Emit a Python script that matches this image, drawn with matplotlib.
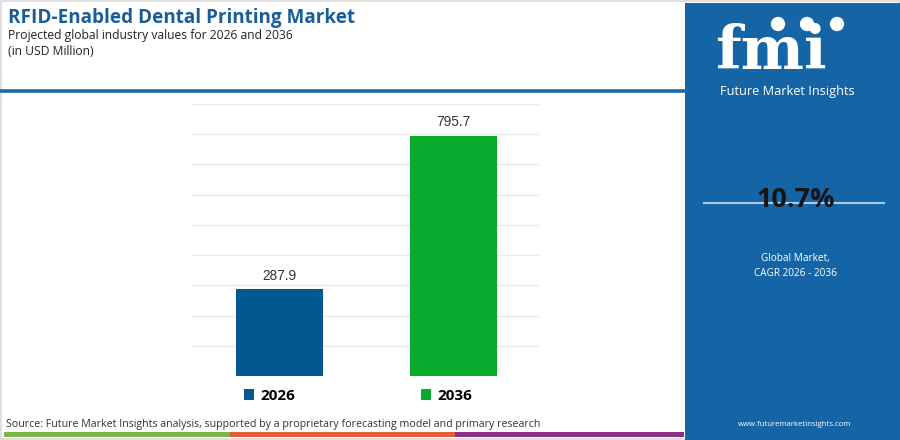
import matplotlib
matplotlib.use("Agg")
import matplotlib.pyplot as plt
from matplotlib.patches import Rectangle, Ellipse
from matplotlib.lines import Line2D

# ---- data ----
years = ["2026", "2036"]
values = [287.9, 795.7]
bar_colors = ["#03598f", "#08ab2e"]
yticks = [0, 100, 200, 300, 400, 500, 600, 700, 800, 900]
title = "RFID-Enabled Dental Printing Market"
subtitle = "Projected global industry values for 2026 and 2036"
unit = "(in USD Million)"
cagr = "10.7%"
cagr_label = "Global Market,\nCAGR 2026 - 2036"
source = "Source: Future Market Insights analysis, supported by a proprietary forecasting model and primary research"

plt.rcParams["font.family"] = ["Open Sans", "DejaVu Sans"]

W, H = 900, 440
fig = plt.figure(figsize=(W / 100, H / 100), dpi=100)
fig.patch.set_facecolor("white")

def fx(px):
    return px / W

def fy(py):
    return 1 - py / H

# outer light border
fig.add_artist(Rectangle((0.001, 0.002), 0.998, 0.995, transform=fig.transFigure,
                         fill=False, edgecolor="#d9d9d9", lw=1.2))

# header line
fig.add_artist(Line2D([fx(0), fx(686)], [fy(91), fy(91)], transform=fig.transFigure,
                      color="#1f6aa5", lw=2.6))

# right panel
fig.add_artist(Rectangle((fx(685), fy(440)), fx(215), 437 / H, transform=fig.transFigure,
                         facecolor="#1565a6", edgecolor="none"))

# bottom strip
strip = [("#7ab648", 4, 230), ("#e0603a", 230, 455), ("#8a2f8a", 455, 684)]
for c, x0, x1 in strip:
    fig.add_artist(Rectangle((fx(x0), fy(437)), fx(x1 - x0), 5 / H, transform=fig.transFigure,
                             facecolor=c, edgecolor="none"))

# titles
fig.text(fx(8), fy(18.5), title, fontsize=13.6, fontweight="bold", color="#1a5e99",
         va="center", ha="left")
fig.text(fx(8), fy(35.5), subtitle, fontsize=8.7, color="#222222", va="center", ha="left")
fig.text(fx(8), fy(51), unit, fontsize=8.7, color="#222222", va="center", ha="left")

# main axes
ax = fig.add_axes([fx(192), (H - 376) / H, fx(348), 272 / H])
x = list(range(len(years)))
bars = ax.bar(x, values, width=0.5, color=bar_colors, label=years, zorder=3)
ax.set_xlim(-0.5, 1.5)
ax.set_ylim(yticks[0], yticks[-1])
ax.set_yticks(yticks)
ax.yaxis.grid(True, color="#ebebeb", lw=1, zorder=0)
ax.set_xticks([])
ax.tick_params(left=False, labelleft=False)
for s in ax.spines.values():
    s.set_visible(False)
for b, v in zip(bars, values):
    ax.annotate(f"{v:.1f}", (b.get_x() + b.get_width() / 2, v), xytext=(0, 4.5),
                textcoords="offset points", ha="center", va="bottom",
                fontsize=9.8, color="#333333", family=["Liberation Sans"])

leg = ax.legend(handles=list(bars), labels=years, loc="center", ncol=2,
                bbox_to_anchor=(fx(358), fy(396)), bbox_transform=fig.transFigure,
                frameon=False, handlelength=0.7, handleheight=0.7, handletextpad=0.4,
                columnspacing=8.2, prop={"weight": "bold", "size": 11})

# source
fig.text(fx(6), fy(424), source, fontsize=7.7, color="#333333", va="center", ha="left")

# panel content
cx = fx(795)
fig.text(fx(771), fy(52), "fmi", fontsize=43, fontweight="bold", color="white",
         family=["DejaVu Serif"], ha="center", va="center")
r = 8
for px in (778, 807, 837):
    fig.add_artist(Ellipse((fx(px), fy(24)), 2 * r / W, 2 * r / H, transform=fig.transFigure,
                           facecolor="white", edgecolor="#1565a6", lw=1.2))
fig.text(fx(787), fy(91), "Future Market Insights", fontsize=9.2, color="white",
         ha="center", va="center")
fig.add_artist(Line2D([fx(704), fx(884)], [fy(203), fy(203)], transform=fig.transFigure,
                      color="#a9cbea", lw=1.5))
fig.text(fx(796), fy(200), cagr, fontsize=19.5, fontweight="bold", color="#151515",
         ha="center", va="center")
fig.text(cx, fy(266), cagr_label, fontsize=7.2, color="white", ha="center", va="center",
         linespacing=1.6)
fig.text(cx, fy(424), "www.futuremarketinsights.com", fontsize=5.6, color="white",
         ha="center", va="center")

fig.savefig("out.png", dpi=100)
